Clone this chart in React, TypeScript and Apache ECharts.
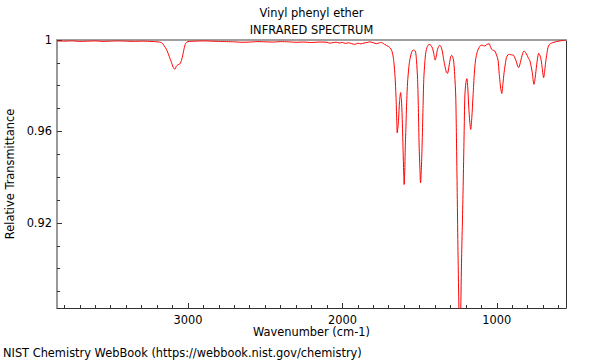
import React, { useEffect, useRef } from "react";
import * as echarts from "echarts";

const wavenumbers = [
  3848, 3800, 3750, 3700, 3650, 3600, 3550, 3500, 3450, 3400, 3350, 3300, 3250, 3200, 3170, 3155, 3140, 3125, 3110, 3095,
  3085, 3075, 3065, 3055, 3045, 3035, 3025, 3015, 3000, 2950, 2900, 2850, 2800, 2750, 2700, 2650, 2600, 2550, 2500, 2450,
  2400, 2350, 2300, 2250, 2200, 2150, 2100, 2080, 2060, 2040, 2020, 2000, 1980, 1960, 1940, 1920, 1900, 1880, 1860, 1840,
  1822, 1800, 1778, 1760, 1746, 1725, 1703, 1690, 1681, 1672, 1666, 1659, 1653, 1648, 1645, 1640, 1636, 1630, 1623, 1618,
  1613, 1607, 1603, 1600, 1596, 1592, 1589, 1583, 1578, 1570, 1563, 1552, 1542, 1533, 1526, 1520, 1513, 1508, 1503, 1498,
  1494, 1489, 1484, 1478, 1473, 1466, 1460, 1450, 1438, 1426, 1416, 1408, 1399, 1392, 1384, 1376, 1369, 1360, 1352, 1343,
  1335, 1327, 1319, 1311, 1304, 1298, 1292, 1285, 1279, 1273, 1266, 1262, 1257, 1252, 1246, 1240, 1234, 1228, 1223, 1218,
  1212, 1207, 1200, 1194, 1188, 1182, 1175, 1169, 1162, 1154, 1145, 1137, 1126, 1115, 1100, 1090, 1078, 1065, 1050, 1042,
  1034, 1023, 1013, 1002, 992, 985, 981, 975, 968, 961, 953, 945, 938, 928, 917, 905, 891, 882, 873, 865,
  858, 850, 840, 832, 824, 814, 804, 795, 787, 778, 769, 764, 759, 751, 743, 736, 729, 722, 716, 710,
  705, 700, 697, 690, 684, 676, 669, 660, 647, 630, 615, 590, 572, 552,
];

const transmittance = [
  0.9996, 0.9995, 0.9996, 0.9994, 0.9995, 0.9996, 0.9994, 0.9995, 0.9996, 0.9995, 0.9994, 0.9995, 0.9994, 0.9992, 0.9988, 0.9975, 0.996, 0.9935, 0.9908, 0.988,
  0.9872, 0.9885, 0.9892, 0.9894, 0.9905, 0.993, 0.9962, 0.9985, 0.9993, 0.9995, 0.9996, 0.9995, 0.9994, 0.9993, 0.9992, 0.999, 0.9991, 0.9993, 0.9992, 0.9991,
  0.9993, 0.9992, 0.999, 0.9991, 0.9989, 0.9991, 0.999, 0.9986, 0.9989, 0.999, 0.9987, 0.9989, 0.9985, 0.9988, 0.9984, 0.9981, 0.9986, 0.9983, 0.9987, 0.9989,
  0.9992, 0.9988, 0.9984, 0.9988, 0.9989, 0.998, 0.9972, 0.9965, 0.9955, 0.993, 0.99, 0.984, 0.9755, 0.965, 0.9594, 0.962, 0.9655, 0.973, 0.977, 0.974,
  0.9667, 0.952, 0.942, 0.9368, 0.943, 0.955, 0.9609, 0.974, 0.9813, 0.988, 0.9915, 0.9945, 0.9956, 0.9955, 0.9948, 0.991, 0.9828, 0.97, 0.9536, 0.944,
  0.9375, 0.943, 0.9536, 0.97, 0.9828, 0.9905, 0.9945, 0.9972, 0.9981, 0.9976, 0.9963, 0.994, 0.9912, 0.993, 0.9959, 0.9972, 0.9977, 0.9968, 0.9948, 0.991,
  0.9882, 0.986, 0.9854, 0.988, 0.9908, 0.9928, 0.9933, 0.9925, 0.9905, 0.985, 0.9755, 0.96, 0.936, 0.91, 0.885, 0.86, 0.88, 0.905, 0.92, 0.936,
  0.958, 0.9755, 0.9815, 0.9831, 0.979, 0.9711, 0.964, 0.9609, 0.966, 0.9755, 0.986, 0.9915, 0.995, 0.9967, 0.9978, 0.9976, 0.9974, 0.998, 0.9984, 0.9972,
  0.996, 0.9955, 0.9952, 0.9935, 0.9912, 0.9855, 0.9828, 0.979, 0.9766, 0.9805, 0.9857, 0.9895, 0.9923, 0.9935, 0.9937, 0.9935, 0.9933, 0.992, 0.9905, 0.9885,
  0.9879, 0.9895, 0.9923, 0.9942, 0.9952, 0.9945, 0.9933, 0.992, 0.9912, 0.9885, 0.9852, 0.982, 0.9806, 0.9838, 0.9886, 0.992, 0.9942, 0.9935, 0.9922, 0.99,
  0.987, 0.9845, 0.9835, 0.9865, 0.9901, 0.994, 0.9966, 0.998, 0.9986, 0.999, 0.9993, 0.9996, 0.9998, 0.9999,
];

const xMajorTicks = [1000, 2000, 3000];
const xMinorTicks = [
  600, 700, 800, 900, 1100, 1200, 1300, 1400, 1500, 1600, 1700, 1800, 1900, 2100, 2200, 2300, 2400, 2500, 2600, 2700, 2800,
  2900, 3100, 3200, 3300, 3400, 3500, 3600, 3700, 3800,
];
const yMajorTicks = [0.92, 0.96, 1];
const yMinorTicks = [0.89, 0.9, 0.91, 0.93, 0.94, 0.95, 0.97, 0.98, 0.99];

const X_MIN = 552;
const X_MAX = 3848;
const Y_MIN = 0.8828;
const Y_MAX = 1;

const titleText = "Vinyl phenyl ether";
const subtitleText = "INFRARED SPECTRUM";
const xName = "Wavenumber (cm-1)";
const yName = "Relative Transmittance";
const footerText = "NIST Chemistry WebBook (https://webbook.nist.gov/chemistry)";

const FONT = "DejaVu Sans";
const FS = 11.4;

export default function App() {
  const ref = useRef<HTMLDivElement>(null);
  useEffect(() => {
    if (!ref.current) return;
    const chart = echarts.init(ref.current, null, { renderer: "svg" });
    const data = wavenumbers.map((w, i) => [w, transmittance[i]]);
    const textStyle = { fontFamily: FONT, fontSize: FS, color: "#000" };
    const option: any = {
      animation: false,
      backgroundColor: "#fff",
      grid: { left: 57, right: 34, top: 40, bottom: 52, containLabel: false },
      xAxis: [
        {
          type: "value",
          min: X_MIN,
          max: X_MAX,
          inverse: true,
          position: "bottom",
          axisLine: { show: true, onZero: false, lineStyle: { color: "#333", width: 1 } },
          axisTick: { show: true, inside: true, length: 5, customValues: xMajorTicks, lineStyle: { color: "#333" } },
          axisLabel: { show: true, customValues: xMajorTicks, margin: 6, formatter: (v: number) => String(v), ...textStyle },
          splitLine: { show: false },
        },
        {
          type: "value",
          min: X_MIN,
          max: X_MAX,
          inverse: true,
          position: "bottom",
          axisLine: { show: false, onZero: false },
          axisTick: { show: true, inside: true, length: 3, customValues: xMinorTicks, lineStyle: { color: "#333" } },
          axisLabel: { show: false },
          splitLine: { show: false },
        },
        {
          type: "value",
          min: X_MIN,
          max: X_MAX,
          inverse: true,
          position: "top",
          axisLine: { show: true, onZero: false, lineStyle: { color: "#a0a0a0", width: 2 } },
          axisTick: { show: false },
          axisLabel: { show: false },
          splitLine: { show: false },
        },
      ],
      yAxis: [
        {
          type: "value",
          min: Y_MIN,
          max: Y_MAX,
          position: "left",
          axisLine: { show: true, onZero: false, lineStyle: { color: "#777", width: 1.5 } },
          axisTick: { show: true, inside: true, length: 5, customValues: yMajorTicks, lineStyle: { color: "#333" } },
          axisLabel: { show: true, customValues: yMajorTicks, margin: 5, formatter: (v: number) => String(v), ...textStyle },
          splitLine: { show: false },
        },
        {
          type: "value",
          min: Y_MIN,
          max: Y_MAX,
          position: "left",
          axisLine: { show: false, onZero: false },
          axisTick: { show: true, inside: true, length: 3, customValues: yMinorTicks, lineStyle: { color: "#333" } },
          axisLabel: { show: false },
          splitLine: { show: false },
        },
        {
          type: "value",
          min: Y_MIN,
          max: Y_MAX,
          position: "right",
          axisLine: { show: true, onZero: false, lineStyle: { color: "#333", width: 1 } },
          axisTick: { show: false },
          axisLabel: { show: false },
          splitLine: { show: false },
        },
      ],
      series: [
        {
          type: "line",
          xAxisIndex: 0,
          yAxisIndex: 0,
          data,
          showSymbol: false,
          smooth: 0.25,
          clip: true,
          lineStyle: { color: "#ff0000", width: 1 },
          z: 1,
        },
      ],
      graphic: [
        { type: "text", x: 311.5, y: 13, style: { text: titleText, align: "center", verticalAlign: "middle", fontFamily: FONT, fontSize: FS, fill: "#000" } },
        { type: "text", x: 311.5, y: 30, style: { text: subtitleText, align: "center", verticalAlign: "middle", fontFamily: FONT, fontSize: FS, fill: "#000" } },
        { type: "text", x: 311.5, y: 332, style: { text: xName, align: "center", verticalAlign: "middle", fontFamily: FONT, fontSize: FS, fill: "#000" } },
        { type: "text", x: 10, y: 174, rotation: Math.PI / 2, style: { text: yName, align: "center", verticalAlign: "middle", fontFamily: FONT, fontSize: FS, fill: "#000" } },
        { type: "text", x: 3, y: 353, style: { text: footerText, align: "left", verticalAlign: "middle", fontFamily: FONT, fontSize: FS, fill: "#000" } },
      ],
    };
    chart.setOption(option);
    return () => chart.dispose();
  }, []);
  return <div ref={ref} style={{ position: "absolute", left: 0, top: 0, width: 600, height: 360 }} />;
}
